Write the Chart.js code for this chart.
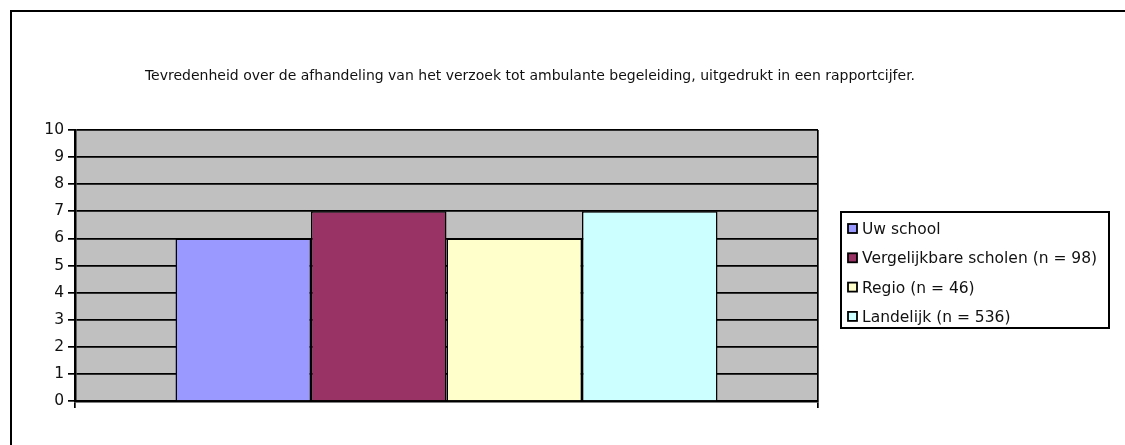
<!DOCTYPE html>
<html>
<head>
<meta charset="utf-8">
<script src="https://cdn.jsdelivr.net/npm/chart.js@4"></script>
<style>
  html, body { margin: 0; padding: 0; background: #fff; overflow: hidden; }
  #wrap { width: 1125px; height: 445px; position: relative; }
</style>
</head>
<body>
<div id="wrap"><canvas id="chart" width="1125" height="445"></canvas></div>
<script>
const titleText = 'Tevredenheid over de afhandeling van het verzoek tot ambulante begeleiding, uitgedrukt in een rapportcijfer.';
const categories = [''];
const seriesNames = ['Uw school', 'Vergelijkbare scholen (n = 98)', 'Regio (n = 46)', 'Landelijk (n = 536)'];
const seriesValues = [6, 7, 6, 7];
const seriesColors = ['#9999FF', '#993366', '#FFFFCC', '#CCFFFF'];
const yTicks = [0, 1, 2, 3, 4, 5, 6, 7, 8, 9, 10];

const FONT = 'DejaVu Sans';

// outer frame (cut off at right and bottom), title and boxed legend
const framePlugin = {
    id: 'frame',
    beforeDraw(chart) {
        const c = chart.ctx;
        c.save();
        c.fillStyle = '#fff';
        c.fillRect(0, 0, chart.width, chart.height);
        c.strokeStyle = '#000';
        c.lineWidth = 2;
        c.beginPath();
        c.moveTo(11, chart.height + 5);
        c.lineTo(11, 11);
        c.lineTo(chart.width + 5, 11);
        c.stroke();

        const a = chart.chartArea;
        c.fillStyle = '#C0C0C0';
        c.fillRect(a.left, a.top, a.right - a.left, a.bottom - a.top);
        c.restore();
    },
    afterDraw(chart) {
        const c = chart.ctx;
        c.save();
        c.font = '14px "' + FONT + '"';
        c.fillStyle = '#111';
        c.textAlign = 'center';
        c.textBaseline = 'middle';
        c.fillText(titleText, 530, 76);

        // legend
        c.lineWidth = 2;
        c.strokeStyle = '#000';
        c.strokeRect(841, 212, 268, 116);
        c.textAlign = 'left';
        c.font = '15.5px "' + FONT + '"';
        chart.data.datasets.forEach((ds, i) => {
            const cy = 229 + i * 29.3;
            c.fillStyle = ds.backgroundColor;
            c.fillRect(848, cy - 5, 9, 9);
            c.lineWidth = 1.8;
            c.strokeRect(848, cy - 5, 9, 9);
            c.fillStyle = '#111';
            c.fillText(ds.label, 862, cy + 1);
        });
        c.restore();
    }
};

const ctx = document.getElementById('chart').getContext('2d');
new Chart(ctx, {
    type: 'bar',
    data: {
        labels: categories,
        datasets: seriesNames.map((name, i) => ({
            label: name,
            data: [seriesValues[i]],
            backgroundColor: seriesColors[i],
            borderColor: '#000',
            borderWidth: 1.5,
            barPercentage: 1,
            categoryPercentage: 0.7295
        }))
    },
    options: {
        responsive: false,
        animation: false,
        layout: { padding: { top: 130, right: 307, bottom: 37, left: 0 } },
        plugins: {
            legend: { display: false },
            title: { display: false },
            tooltip: { enabled: false }
        },
        scales: {
            x: {
                grid: {
                    offset: true,
                    color: '#000',
                    lineWidth: 1.7,
                    drawOnChartArea: true,
                    tickLength: 7
                },
                border: { display: true, color: '#000', width: 2.5 },
                ticks: { display: false }
            },
            y: {
                min: 0,
                max: 10,
                afterFit(scale) { scale.width = 75; },
                afterBuildTicks(scale) { scale.ticks = yTicks.map(v => ({ value: v })); },
                grid: { color: '#000', lineWidth: 1.7, tickLength: 7 },
                border: { display: true, color: '#000', width: 2.5 },
                ticks: {
                    color: '#111',
                    padding: 4,
                    font: { family: FONT, size: 15.5 }
                }
            }
        }
    },
    plugins: [framePlugin]
});
</script>
</body>
</html>
